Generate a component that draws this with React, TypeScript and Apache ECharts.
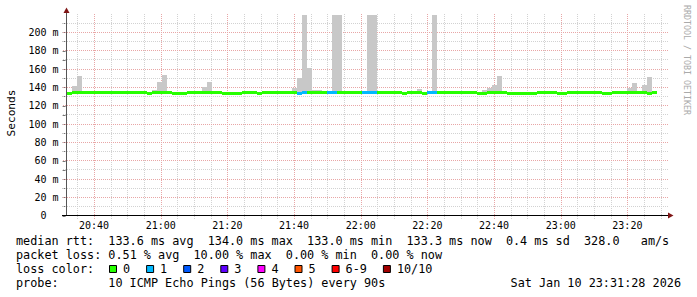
import React, { useEffect, useRef } from "react";
import * as echarts from "echarts";

// ---------- data ----------
const chartStart = "20:31:28";
const chartEnd = "23:31:28";
const firstStepStart = "20:31:53";
const stepSeconds = 90;

// median RTT per 90 s step (ms)
const medianRtt = [
  133.0, 134.0, 134.0, 134.0, 134.0, 133.5, 133.5, 134.0, 134.0, 133.5,
  133.5, 134.0, 134.0, 134.0, 134.0, 133.5, 133.0, 134.0, 134.0, 134.0,
  134.0, 133.0, 133.0, 133.0, 133.5, 134.0, 134.0, 134.0, 134.0, 134.0,
  134.0, 133.0, 133.0, 133.0, 133.0, 133.5, 134.0, 133.5, 133.0, 133.5,
  134.0, 133.5, 133.5, 134.0, 134.0, 133.5, 133.0, 133.5, 134.0, 134.0,
  134.0, 134.0, 134.0, 134.0, 133.5, 133.5, 134.0, 134.0, 134.0, 134.0,
  134.0, 134.0, 133.5, 133.5, 133.5, 134.0, 133.5, 133.0, 133.5, 134.0,
  133.5, 133.0, 133.5, 133.5, 134.0, 134.0, 134.0, 134.0, 133.5, 133.5,
  133.5, 133.5, 133.0, 133.0, 134.0, 134.0, 134.0, 133.5, 133.0, 133.0,
  133.0, 133.0, 133.0, 133.0, 133.5, 134.0, 134.0, 133.5, 133.0, 133.0,
  133.5, 133.5, 133.5, 133.5, 133.5, 134.0, 133.5, 133.0, 133.0, 133.5,
  134.0, 134.0, 134.0, 133.5, 133.5, 133.5, 133.0, 133.5,
];

// lost pings (of 10) per step
const lossCount = [
  0, 0, 0, 0, 0, 0, 0, 0, 0, 0,
  0, 0, 0, 0, 0, 0, 0, 0, 0, 0,
  0, 0, 0, 0, 0, 0, 0, 0, 0, 0,
  0, 0, 0, 0, 0, 0, 0, 0, 0, 0,
  0, 0, 0, 0, 0, 0, 1, 1, 0, 0,
  0, 0, 1, 1, 0, 0, 0, 0, 0, 1,
  1, 1, 0, 0, 0, 0, 0, 0, 0, 0,
  0, 0, 1, 1, 0, 0, 0, 0, 0, 0,
  0, 0, 0, 0, 0, 0, 0, 0, 0, 0,
  0, 0, 0, 0, 0, 0, 0, 0, 0, 0,
  0, 0, 0, 0, 0, 0, 0, 0, 0, 0,
  0, 0, 0, 0, 0, 0, 0, 0,
];

// highest ping per step (smoke top, ms)
const smokeMax = [
  135, 142, 152.5, 135, 135, 135, 135, 135, 135, 135,
  135, 135, 135, 135, 135, 135, 135, 137, 146, 153.5,
  135, 135, 135, 135, 135, 135, 135, 140, 146, 135,
  135, 135, 135, 135, 135, 135, 135, 135, 135, 135,
  135, 135, 135, 135, 135, 139.5, 150.5, 219, 161, 137.5,
  137.5, 135, 135, 219, 219, 135, 135, 135, 135, 135,
  219, 219, 135, 135, 135, 135, 135, 135, 135, 135,
  138.5, 135, 135, 219, 135, 135, 135, 135, 135, 135,
  135, 135, 135, 137.5, 139.5, 142.5, 152.5, 135, 135, 135,
  135, 135, 135, 135, 135, 135, 135, 135, 135, 135,
  135, 135, 135, 135, 135, 135, 135, 135, 135, 135,
  135, 135, 139.5, 144.5, 135, 142.5, 151.5, 135,
];

const yLabelValues = [0, 20, 40, 60, 80, 100, 120, 140, 160, 180, 200];
const yGridValues = [10, 20, 30, 40, 50, 60, 70, 80, 90, 100, 110, 120, 130, 140, 150, 160, 170, 180, 190, 200, 210];
const xLabelTimes = ["20:40", "21:00", "21:20", "21:40", "22:00", "22:20", "22:40", "23:00", "23:20"];
const xGridTimes = [
  "20:35", "20:40", "20:45", "20:50", "20:55", "21:00", "21:05", "21:10", "21:15",
  "21:20", "21:25", "21:30", "21:35", "21:40", "21:45", "21:50", "21:55", "22:00",
  "22:05", "22:10", "22:15", "22:20", "22:25", "22:30", "22:35", "22:40", "22:45",
  "22:50", "22:55", "23:00", "23:05", "23:10", "23:15", "23:20", "23:25", "23:30",
];
const lossLabels = ["0", "1", "2", "3", "4", "5", "6-9", "10/10"];
const lossColors = ["#26ff00", "#00b8ff", "#0059ff", "#5e00ff", "#ff00ff", "#ff5500", "#ff0000", "#a10000"];

const statLines = [
  "median rtt:  133.6 ms avg  134.0 ms max  133.0 ms min  133.3 ms now  0.4 ms sd  328.0   am/s",
  "packet loss: 0.51 % avg  10.00 % max  0.00 % min  0.00 % now",
];
const legendTitle = "loss color:";
const probeLine = "probe:       10 ICMP Echo Pings (56 Bytes) every 90s";
const dateText = "Sat Jan 10 23:31:28 2026";
const yAxisTitle = "Seconds";
const watermark = "RRDTOOL / TOBI OETIKER";

// ---------- helpers ----------
const MONO = "'DejaVu Sans Mono', 'Liberation Mono', monospace";
const CHAR_W = 7.1;
const TEXT_X = 16;
const GRID_MINOR = "#d2d2d2";
const GRID_MAJOR = "#e8a6a6";
const ARROW = "#7f1515";

function hms(s: string): number {
  const p = s.split(":").map(Number);
  return p[0] * 3600 + p[1] * 60 + (p[2] || 0);
}
const pad2 = (n: number) => String(n).padStart(2, "0");
const fmtTime = (v: number) => `${pad2(Math.floor(v / 3600))}:${pad2(Math.floor((v % 3600) / 60))}`;
function lossIndex(n: number) {
  if (n <= 5) return n;
  if (n < 10) return 6;
  return 7;
}
function segments(line: string) {
  const out: { col: number; text: string }[] = [];
  const re = /\S+(?: \S+)*/g;
  let m: RegExpExecArray | null;
  while ((m = re.exec(line))) out.push({ col: m.index, text: m[0] });
  return out;
}

const T0 = hms(chartStart);
const T1 = hms(chartEnd);
const S0 = hms(firstStepStart);
const Y_MAX = 220;

function textEl(text: string, x: number, y: number, extra: any = {}) {
  return {
    type: "text",
    x,
    y,
    z: 20,
    rotation: extra.rotation || 0,
    style: {
      text,
      fontFamily: MONO,
      fontSize: extra.fontSize || 11.8,
      fill: extra.fill || "#000",
      align: extra.align || "left",
      textAlign: extra.align || "left",
      verticalAlign: "middle",
      textVerticalAlign: "middle",
    },
  };
}

export default function App() {
  const ref = useRef<HTMLDivElement>(null);
  useEffect(() => {
    if (!ref.current) return;
    const chart = echarts.init(ref.current, undefined, { renderer: "svg" });

    const stepData = medianRtt.map((m, i) => [S0 + i * stepSeconds, S0 + (i + 1) * stepSeconds, m, smokeMax[i], lossCount[i]]);

    const graphics: any[] = [];
    // axes lines + arrows
    graphics.push({ type: "line", z: 15, shape: { x1: 66.5, y1: 215, x2: 66.5, y2: 11 }, style: { stroke: "#555", lineWidth: 1 } });
    graphics.push({ type: "polygon", z: 16, shape: { points: [[63.5, 13], [69.5, 13], [66.5, 7.5]] }, style: { fill: ARROW } });
    graphics.push({ type: "line", z: 15, shape: { x1: 62, y1: 215.5, x2: 669, y2: 215.5 }, style: { stroke: "#000", lineWidth: 1 } });
    graphics.push({ type: "polygon", z: 16, shape: { points: [[668, 212.5], [668, 218.5], [673.5, 215.5]] }, style: { fill: ARROW } });
    // titles
    graphics.push(textEl(yAxisTitle, 11, 113, { rotation: Math.PI / 2, align: "center", fontSize: 11.2 }));
    graphics.push(textEl(watermark, 687, 60, { rotation: -Math.PI / 2, align: "center", fontSize: 8.3, fill: "#aaaaaa" }));
    // stats
    const lineY = [241, 255, 269, 283];
    statLines.forEach((line, r) => {
      segments(line).forEach((s) => graphics.push(textEl(s.text, TEXT_X + s.col * CHAR_W, lineY[r])));
    });
    graphics.push(textEl(legendTitle, TEXT_X, lineY[2]));
    let bx = 109;
    lossLabels.forEach((lab, k) => {
      graphics.push({ type: "rect", z: 20, shape: { x: bx + 0.5, y: 265.5, width: 7, height: 7 }, style: { fill: lossColors[k], stroke: "#000", lineWidth: 1 } });
      graphics.push(textEl(lab, bx + 14, lineY[2]));
      bx += 30 + CHAR_W * lab.length;
    });
    segments(probeLine).forEach((s) => graphics.push(textEl(s.text, TEXT_X + s.col * CHAR_W, lineY[3])));
    graphics.push(textEl(dateText, 681, lineY[3], { align: "right" }));

    const option: any = {
      animation: false,
      backgroundColor: "#ffffff",
      grid: { left: 65.6, top: 14.1, width: 600, bottom: 81.2, containLabel: false },
      xAxis: {
        type: "value",
        min: T0,
        max: T1,
        axisLine: { show: false },
        splitLine: { show: false },
        axisTick: { show: false },
        axisLabel: {
          customValues: xLabelTimes.map(hms),
          formatter: (v: number) => fmtTime(v),
          fontFamily: MONO,
          fontSize: 10,
          color: "#000",
          margin: 5,
        },
      },
      yAxis: {
        type: "value",
        min: 0,
        max: Y_MAX,
        interval: 20,
        axisLine: { show: false },
        splitLine: { show: false },
        axisTick: { show: true, customValues: [0, ...yGridValues], length: 3, lineStyle: { color: "#777" } },
        axisLabel: {
          customValues: yLabelValues,
          formatter: (v: number) => (v === 0 ? "{z|0}" : `${v} m`),
          fontFamily: MONO,
          fontSize: 10,
          color: "#000",
          margin: 7,
          rich: { z: { padding: [0, 12, 0, 0], fontFamily: MONO, fontSize: 10, color: "#000" } },
        },
      },
      graphic: graphics,
      series: [
        {
          type: "custom",
          silent: true,
          z: 1,
          data: xGridTimes.map((t) => [hms(t), 0]),
          encode: { x: 0, y: 1 },
          renderItem: (_p: any, api: any) => {
            const t = api.value(0);
            const major = t % 1200 === 0;
            const b = api.coord([t, 0]);
            const tp = api.coord([t, Y_MAX]);
            const x = Math.round(b[0]) + 0.5;
            return {
              type: "line",
              shape: { x1: x, y1: Math.round(tp[1]), x2: x, y2: Math.round(b[1]) + 3 },
              style: { stroke: major ? GRID_MAJOR : GRID_MINOR, lineWidth: 1, lineDash: [1, 1] },
            };
          },
        },
        {
          type: "custom",
          silent: true,
          z: 1,
          data: yGridValues.map((v) => [T0, v]),
          encode: { x: 0, y: 1 },
          renderItem: (_p: any, api: any) => {
            const v = api.value(1);
            const major = v % 20 === 0;
            const a = api.coord([T0, v]);
            const b = api.coord([T1, v]);
            const y = Math.floor(a[1]) + 0.5;
            return {
              type: "line",
              shape: { x1: Math.round(a[0]) - 3, y1: y, x2: Math.round(b[0]) + 3, y2: y },
              style: { stroke: major ? GRID_MAJOR : GRID_MINOR, lineWidth: 1, lineDash: [1, 1] },
            };
          },
        },
        {
          type: "custom",
          silent: true,
          z: 3,
          data: stepData,
          encode: { x: [0, 1], y: [2, 3] },
          renderItem: (_p: any, api: any) => {
            const a = api.coord([api.value(0), api.value(3)]);
            const b = api.coord([api.value(1), api.value(2)]);
            const x0 = Math.round(a[0]);
            const x1 = Math.round(b[0]);
            const y0 = Math.round(a[1]);
            const y1 = Math.round(b[1]);
            return { type: "rect", shape: { x: x0, y: y0, width: x1 - x0, height: Math.max(0, y1 - y0) }, style: { fill: "#c8c8c8" } };
          },
        },
        {
          type: "custom",
          silent: true,
          z: 5,
          data: stepData,
          encode: { x: [0, 1], y: 2 },
          renderItem: (_p: any, api: any) => {
            const a = api.coord([api.value(0), api.value(2)]);
            const b = api.coord([api.value(1), api.value(2)]);
            const x0 = Math.round(a[0]);
            const x1 = Math.round(b[0]);
            const y = Math.floor(a[1] - 1.5);
            return { type: "rect", shape: { x: x0, y, width: x1 - x0, height: 3 }, style: { fill: lossColors[lossIndex(api.value(4))] } };
          },
        },
      ],
    };
    chart.setOption(option);
    return () => chart.dispose();
  }, []);
  return <div ref={ref} style={{ position: "fixed", left: 0, top: 0, width: 697, height: 297, background: "#fff" }} />;
}
